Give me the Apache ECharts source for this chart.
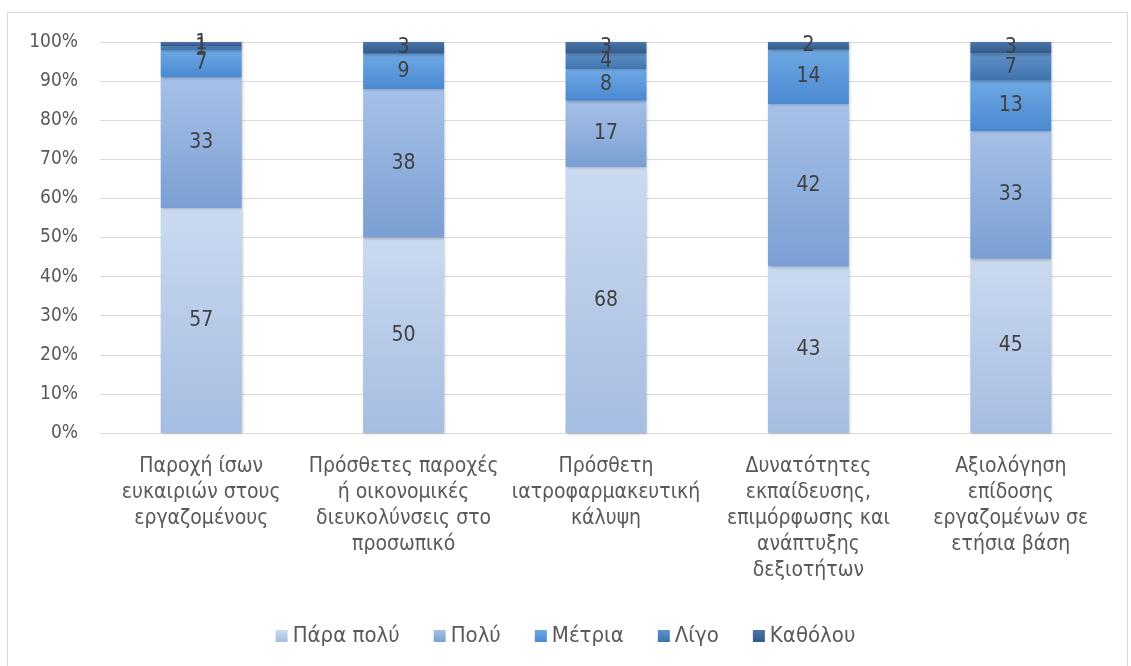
<!DOCTYPE html>
<html>
<head>
<meta charset="utf-8">
<script src="https://cdn.jsdelivr.net/npm/echarts@6/dist/echarts.min.js"></script>
<style>
html,body{margin:0;padding:0;background:#fff;}
#frame{position:absolute;left:7px;top:12px;width:1121px;height:660px;border:1px solid #d9d9d9;box-sizing:border-box;}
#chart{position:absolute;left:0;top:0;width:1131px;height:666px;}
</style>
</head>
<body>
<div id="frame"></div>
<div id="chart"></div>
<script>
const categories = [
  "Παροχή ίσων\nευκαιριών στους\nεργαζομένους",
  "Πρόσθετες παροχές\nή οικονομικές\nδιευκολύνσεις στο\nπροσωπικό",
  "Πρόσθετη\nιατροφαρμακευτική\nκάλυψη",
  "Δυνατότητες\nεκπαίδευσης,\nεπιμόρφωσης και\nανάπτυξης\nδεξιοτήτων",
  "Αξιολόγηση\nεπίδοσης\nεργαζομένων σε\nετήσια βάση"
];
const seriesNames = ["Πάρα πολύ", "Πολύ", "Μέτρια", "Λίγο", "Καθόλου"];
const paraPoly = [57, 50, 68, 43, 45];
const poly     = [33, 38, 17, 42, 33];
const metria   = [7, 9, 8, 14, 13];
const ligo     = [1, 0, 4, 0, 7];
const katholou = [1, 3, 3, 2, 3];
const yTicks = [0,10,20,30,40,50,60,70,80,90,100];

const raw = [paraPoly, poly, metria, ligo, katholou];
const totals = categories.map((_, i) => raw.reduce((s, arr) => s + arr[i], 0));

const gradients = [
  ['#cadaf0', '#a5bde1'],
  ['#a6c1e7', '#7b9fd3'],
  ['#6ea8e4', '#4a89d1'],
  ['#5f91c9', '#3e73ae'],
  ['#4b75a6', '#2f5a8b']
];
function grad(c){
  return new echarts.graphic.LinearGradient(0,0,0,1,[{offset:0,color:c[0]},{offset:1,color:c[1]}]);
}

const FONT = '"DejaVu Sans Condensed", "Liberation Sans Narrow", "Noto Sans", sans-serif';

const series = raw.map((arr, k) => ({
  name: seriesNames[k],
  type: 'bar',
  stack: 'total',
  barWidth: '40%',
  data: arr.map((v, i) => ({ value: v / totals[i] * 100, raw: v })),
  itemStyle: {
    color: grad(gradients[k]),
    shadowBlur: 3,
    shadowColor: 'rgba(0,0,0,0.25)',
    shadowOffsetX: 1,
    shadowOffsetY: 1
  },
  label: {
    show: true,
    position: 'inside',
    color: '#404040',
    fontFamily: FONT,
    fontSize: 21,
    formatter: p => p.data.raw === 0 ? '' : String(p.data.raw)
  }
}));

const chart = echarts.init(document.getElementById('chart'));
chart.setOption({
  animation: false,
  grid: { left: 100, right: 19, top: 42, bottom: 233, containLabel: false },
  legend: {
    bottom: 14,
    left: 'center',
    itemWidth: 12,
    itemHeight: 12,
    itemGap: 34,
    icon: 'rect',
    textStyle: { color: '#595959', fontSize: 22, fontFamily: FONT },
    data: seriesNames
  },
  xAxis: {
    type: 'category',
    data: categories,
    axisLine: { lineStyle: { color: '#d9d9d9' } },
    axisTick: { show: false },
    axisLabel: {
      color: '#595959',
      fontSize: 21,
      fontFamily: FONT,
      lineHeight: 26,
      margin: 21,
      interval: 0
    }
  },
  yAxis: {
    type: 'value',
    min: 0,
    max: 100,
    interval: 10,
    axisLine: { show: false },
    axisTick: { show: false },
    splitLine: { lineStyle: { color: '#d9d9d9', width: 1 } },
    axisLabel: {
      color: '#595959',
      fontSize: 19,
      fontFamily: FONT,
      margin: 22,
      formatter: v => yTicks.includes(v) ? v + '%' : ''
    }
  },
  series: series
});
</script>
</body>
</html>
